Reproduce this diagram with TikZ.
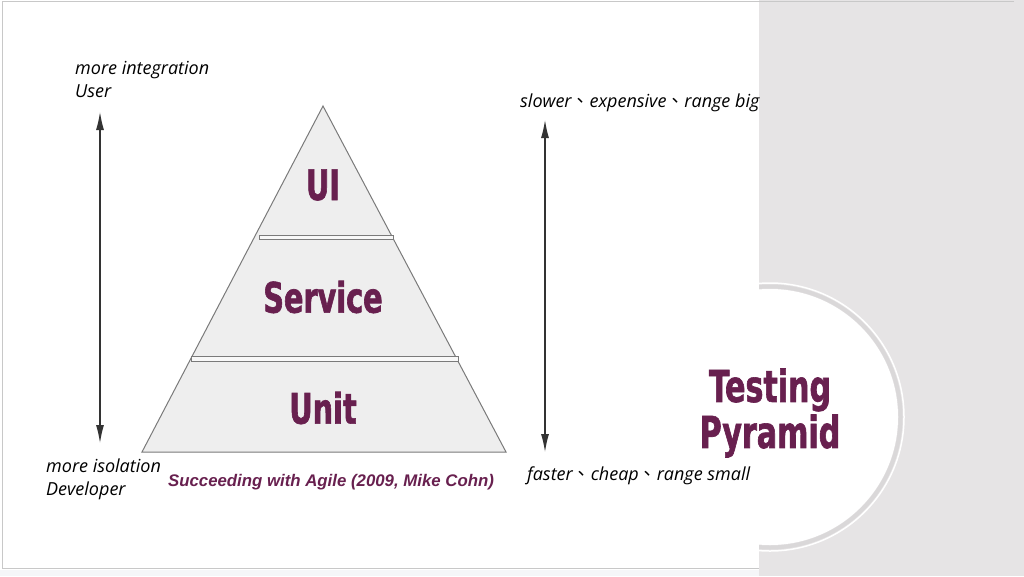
\documentclass[tikz,border=0pt]{standalone}
\usepackage{fontspec}
\setmainfont{Open Sans}
\setsansfont{Liberation Sans}
\newfontfamily\headfont[FakeStretch=0.76, BoldFeatures={FakeBold=1.4}]{DejaVu Sans Condensed}
\newfontfamily\cjkfont{Noto Sans CJK TC}
\usetikzlibrary{positioning,arrows.meta}
\definecolor{plum}{HTML}{68204F}
\definecolor{panelgray}{HTML}{E6E4E5}
\definecolor{ringgray}{HTML}{DAD8D9}
\definecolor{layerfill}{HTML}{EEEEEE}
\definecolor{layerline}{HTML}{7A7A7A}
\definecolor{framegray}{HTML}{C8C8C8}
\definecolor{stripgray}{HTML}{F5F6F8}
\newcommand{\dunhao}{{\cjkfont 、}}

\begin{document}
\begin{tikzpicture}[
  x=1pt, y=-1pt,
  every node/.style={inner sep=0pt},
  sidelabel/.style={font=\itshape\fontsize{18}{23}\selectfont, align=left},
  layer/.style={font=\headfont\bfseries\fontsize{42}{44}\selectfont, text=plum},
  title/.style={font=\headfont\bfseries\fontsize{44}{46}\selectfont, text=plum, align=center},
  updown/.style={{Latex[length=18pt,width=8pt]}-{Latex[length=18pt,width=8pt]}, line width=1.2pt, draw=black!80},
  gap/.style={draw=layerline, fill=white!60!layerfill, line width=0.8pt}
]
\useasboundingbox (0,0) rectangle (1024,576);
% slide and side panel
\fill[white] (0,0) rectangle (1024,576);
\fill[stripgray] (0,570) rectangle (759,576);
\fill[panelgray] (759,0) rectangle (1024,576);
\begin{scope}
  \clip (759,0) rectangle (1024,576);
  \fill[white] (770,417) circle (128);
  \draw[ringgray, line width=4pt] (770,417) circle (130.5);
  \draw[white, line width=1.5pt] (770,417) circle (134);
\end{scope}
\draw[framegray, line width=1pt] (1014,1.5) -- (2,1.5) -- (2,568) -- (759,568);

% pyramid
\coordinate (apex) at (323,106);
\coordinate (baseL) at (142,452);
\coordinate (baseR) at (506,452);
\draw[layerline, fill=layerfill, line width=1pt] (apex) -- (baseR) -- (baseL) -- cycle;
\draw[gap] (259,235) rectangle (393,239);
\draw[gap] (191,356) rectangle (458,361);

\node[layer] (ui) at (323,185) {UI};
\node[layer] (service) at (323,297) {Service};
\node[layer] (unit) at (323,408) {Unit};

% left scale
\node[sidelabel, anchor=north west] (integ) at (75,61) {more integration\\User};
\node[sidelabel, anchor=north west] (isol) at (46,459) {more isolation\\Developer};
\coordinate (integTip) at (100,112);
\coordinate (isolTip) at (100,443);
\draw[updown] (integTip) -- (isolTip);

% right scale
\node[sidelabel, anchor=north west] (costly) at (520,94) {slower\dunhao expensive\dunhao range big};
\node[sidelabel, anchor=north west] (cheap) at (527,467) {faster\dunhao cheap\dunhao range small};
\coordinate (costlyTip) at (545,120);
\coordinate (cheapTip) at (545,452);
\draw[updown] (costlyTip) -- (cheapTip);

% source and title
\node[font=\sffamily\bfseries\itshape\fontsize{16.8}{20}\selectfont, text=plum] (source) at (331,482) {Succeeding with Agile (2009, Mike Cohn)};
\node[title] (heading) at (770,413) {Testing\\[0pt]Pyramid};
\end{tikzpicture}
\end{document}
